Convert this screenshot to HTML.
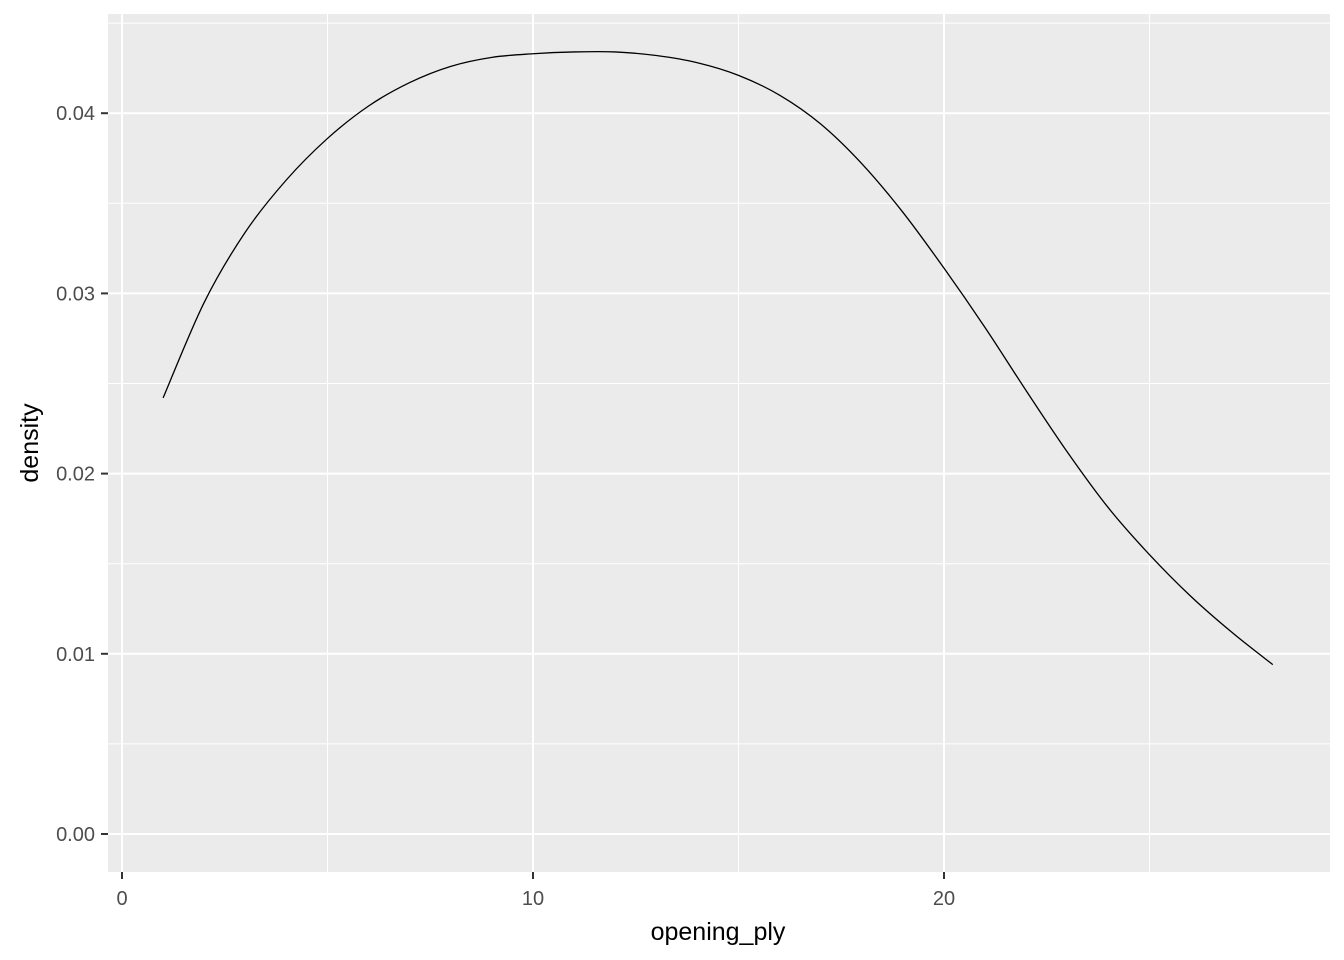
<!DOCTYPE html>
<html><head><meta charset="utf-8"><style>body{margin:0;background:#fff}svg{display:block;font-family:"Liberation Sans",sans-serif}</style></head>
<body>
<svg id="chart" width="1344" height="960">
<rect x="108" y="14" width="1222" height="858" fill="#ebebeb"/>
<g id="grid"></g><g id="axes"></g><g id="series"></g>
<text x="718" y="940" font-size="25" text-anchor="middle" fill="#000">opening_ply</text>
<text transform="translate(38,443) rotate(-90)" font-size="25" text-anchor="middle" fill="#000">density</text>
</svg>
<script>
const xs=[1,2,3,4,5,6,7,8,9,10,11,12,13,14,15,16,17,18,19,20,21,22,23,24,25,26,27,28];
const ys=[0.0242,0.0295,0.0334,0.0363,0.0386,0.0404,0.0417,0.0426,0.0431,0.0433,0.0434,0.0434,0.0432,0.0428,0.0421,0.0410,0.0394,0.0372,0.0345,0.0314,0.0281,0.0246,0.0212,0.0181,0.0155,0.0132,0.0112,0.0094];
const xTicks=[0,10,20];
const yTicks=[0,0.01,0.02,0.03,0.04];
const yTickLabels=["0.00","0.01","0.02","0.03","0.04"];
const X=v=>122+v*41.1, Y=v=>834-v*18020;
const NS="http://www.w3.org/2000/svg";
function mk(tag,attrs,parent){const e=document.createElementNS(NS,tag);for(const k in attrs)e.setAttribute(k,attrs[k]);parent.appendChild(e);return e;}
const grid=document.getElementById('grid'),axes=document.getElementById('axes'),series=document.getElementById('series');
for(let i=0;i<xTicks.length;i++){const v=xTicks[i];
 const m=v+5;if(X(m)<1330){const g=mk('line',{x1:X(m),x2:X(m),y1:14,y2:872,stroke:'#fff','stroke-width':1},grid);}
 const l=mk('line',{x1:X(v),x2:X(v),y1:14,y2:872,stroke:'#fff','stroke-width':2},grid);
 
 const t=mk('line',{x1:X(v),x2:X(v),y1:872,y2:879,stroke:'#333','stroke-width':2},axes);
 
 const tx=mk('text',{x:X(v),y:905,'font-size':20,'text-anchor':'middle',fill:'#4d4d4d'},axes);tx.textContent=v;
 }
for(let i=0;i<yTicks.length;i++){const v=yTicks[i];
 const m=mk('line',{x1:108,x2:1330,y1:Y(v+0.005),y2:Y(v+0.005),stroke:'#fff','stroke-width':1},grid);
 
 const l=mk('line',{x1:108,x2:1330,y1:Y(v),y2:Y(v),stroke:'#fff','stroke-width':2},grid);
 
 const t=mk('line',{x1:101,x2:108,y1:Y(v),y2:Y(v),stroke:'#333','stroke-width':2},axes);
 
 const tx=mk('text',{x:95,y:Y(v)+7,'font-size':20,'text-anchor':'end',fill:'#4d4d4d'},axes);tx.textContent=yTickLabels[i];
 }
const P=xs.map((x,i)=>[X(x),Y(ys[i])]);
let d='M'+P[0][0]+','+P[0][1];
for(let i=0;i<P.length-1;i++){const p0=P[Math.max(0,i-1)],p1=P[i],p2=P[i+1],p3=P[Math.min(P.length-1,i+2)];
 d+=' C'+(p1[0]+(p2[0]-p0[0])/6)+','+(p1[1]+(p2[1]-p0[1])/6)+' '+(p2[0]-(p3[0]-p1[0])/6)+','+(p2[1]-(p3[1]-p1[1])/6)+' '+p2[0]+','+p2[1];}
const path=mk('path',{d:d,fill:'none',stroke:'#000','stroke-width':1.3},series);


</script>
</body></html>
